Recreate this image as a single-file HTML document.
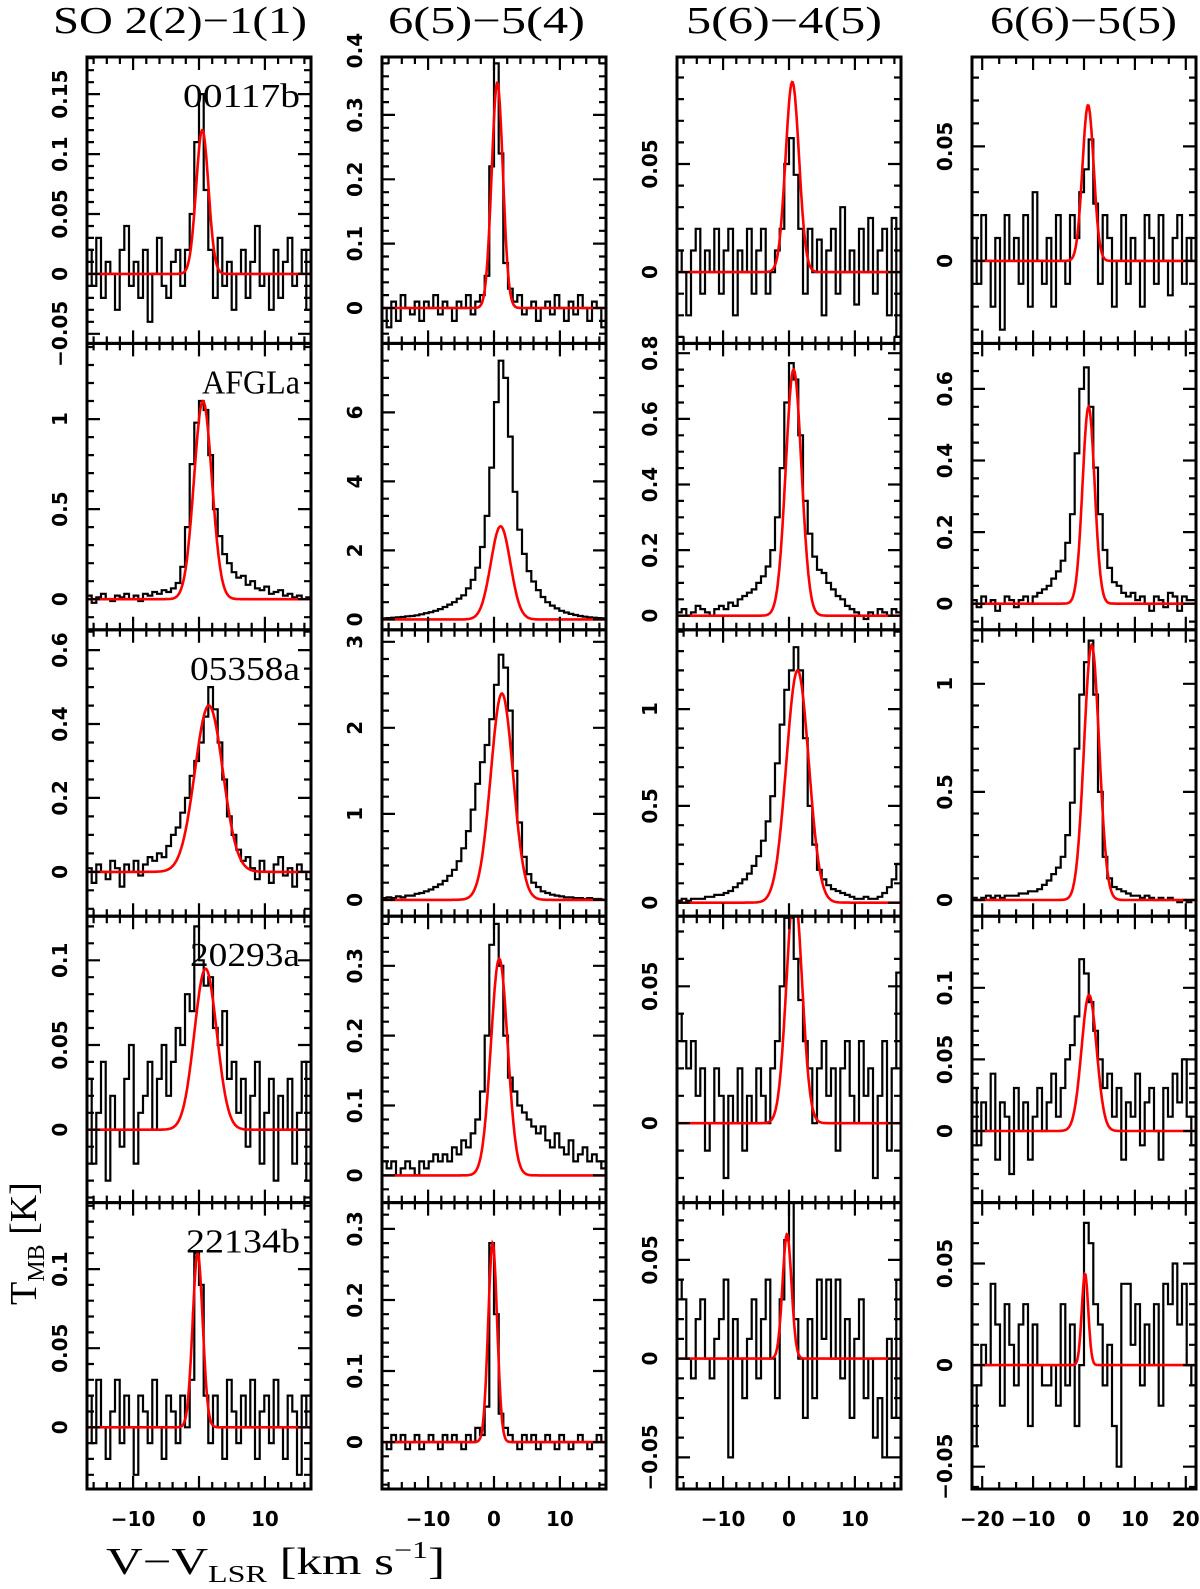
<!DOCTYPE html>
<html><head><meta charset="utf-8"><title>SO spectra</title>
<style>html,body{margin:0;padding:0;background:#fff}svg{display:block}</style></head>
<body>
<svg id="chart" xmlns="http://www.w3.org/2000/svg" width="1200" height="1589" viewBox="0 0 1200 1589">
<g id="titles" font-family="'Liberation Serif', serif" font-size="38" fill="#000">
<text x="53" y="33" textLength="254" lengthAdjust="spacingAndGlyphs">SO 2(2)−1(1)</text>
<text x="388" y="33" textLength="197" lengthAdjust="spacingAndGlyphs">6(5)−5(4)</text>
<text x="686" y="33" textLength="196" lengthAdjust="spacingAndGlyphs">5(6)−4(5)</text>
<text x="990" y="33" textLength="187" lengthAdjust="spacingAndGlyphs">6(6)−5(5)</text>
</g>
<text font-family="'Liberation Serif', serif" font-size="38" transform="translate(36,1305) rotate(-90)">T<tspan font-size="24" dy="8">MB</tspan><tspan dy="-8"> [K]</tspan></text>
<text font-family="'Liberation Serif', serif" font-size="38" x="106" y="1574" textLength="339" lengthAdjust="spacingAndGlyphs">V−V<tspan font-size="24" dy="8">LSR</tspan><tspan dy="-8"> [km s</tspan><tspan font-size="24" dy="-16">−1</tspan><tspan dy="16">]</tspan></text>
<g id="panels"></g>
</svg>
<script>
// ---- data ----
const sources = ["00117b","AFGLa","05358a","20293a","22134b"];
const sourceWidths = [117,98,110,110,114];
const xDomains = [[-17,17],[-17,17],[-17,17],[-22,22]];
const xTickLabels = [[-10,0,10],[-10,0,10],[-10,0,10],[-20,-10,0,10,20]];
const yMinR = [[-0.058,-0.055,-0.033,-0.036],[-0.17,-0.3,-0.043,-0.073],[-0.12,-0.19,-0.07,-0.075],[-0.043,-0.039,-0.029,-0.05],[-0.039,-0.066,-0.066,-0.061]];
const yMaxR = [[0.181,0.39,0.0995,0.089],[1.42,8.0,0.83,0.727],[0.655,3.14,1.41,1.25],[0.126,0.371,0.0756,0.15],[0.142,0.337,0.079,0.08]];
const yTickLabels = [
 [[-0.05,0,0.05,0.1,0.15],[0,0.1,0.2,0.3,0.4],[0,0.05],[0,0.05]],
 [[0,0.5,1],[0,2,4,6],[0,0.2,0.4,0.6,0.8],[0,0.2,0.4,0.6]],
 [[0,0.2,0.4,0.6],[0,1,2,3],[0,0.5,1],[0,0.5,1]],
 [[0,0.05,0.1],[0,0.1,0.2,0.3],[0,0.05],[0,0.05,0.1]],
 [[0,0.05,0.1],[0,0.1,0.2,0.3],[-0.05,0,0.05],[-0.05,0,0.05]]];
const yMinor = [[0.01,0.02,0.01,0.01],[0.1,0.5,0.05,0.05],[0.05,0.2,0.1,0.1],[0.01,0.02,0.01,0.01],[0.01,0.02,0.01,0.01]];
const fitAmp = [[0.12,0.35,0.088,0.068],[1.1,2.7,0.75,0.55],[0.45,2.4,1.2,1.18],[0.095,0.31,0.085,0.095],[0.11,0.28,0.063,0.045]];
const fitCen = [[0.5,0.5,0.5,0.8],[0.6,1.0,0.7,0.9],[1.5,1.2,1.3,1.5],[1.0,0.8,0.8,1.0],[-0.2,-0.2,-0.3,0.2]];
const fitFwhm = [[2.2,2.0,2.4,2.6],[3.2,3.5,2.8,2.8],[5.0,4.0,4.0,3.5],[4.0,3.0,2.8,3.5],[1.8,1.6,1.6,1.5]];
const spec_r1c1 = [0.02,-0.01,0.03,-0.02,0.01,0.00,-0.03,0.02, 0.04,-0.01,0.01,-0.02,0.02,-0.04,0.00,0.03, -0.01,-0.02,0.01,0.02,-0.01,0.02,0.05,0.11, 0.15,0.07,0.02,-0.02,0.03,-0.01,0.01,-0.03, 0.00,0.02,-0.02,0.01,0.04,-0.01,0.00,-0.03, 0.02,-0.02,0.01,0.03,-0.01,0.00,0.02,-0.03];
const spec_r1c2 = [0.00,-0.03,0.01,-0.02,0.02,0.00,-0.01,0.01, -0.02,0.01,0.00,0.02,-0.01,0.01,0.00,-0.02, 0.01,0.00,0.02,-0.01,0.01,0.02,0.05,0.22, 0.38,0.24,0.07,0.03,0.01,0.02,-0.01,0.00, 0.01,-0.02,0.00,0.01,-0.01,0.02,0.00,-0.02, 0.01,-0.01,0.02,0.00,-0.02,0.01,0.00,-0.03];
const spec_r1c3 = [0.01,0.00,-0.02,0.01,0.02,-0.01,0.01,0.00, 0.02,-0.01,0.01,0.02,-0.02,0.01,0.00,0.02, -0.01,0.01,0.02,-0.01,0.00,0.01,0.02,0.05, 0.062,0.045,0.02,-0.01,0.02,0.00,0.015,-0.02, 0.01,0.02,-0.01,0.03,0.00,0.01,-0.015,0.02, 0.00,0.025,-0.01,0.01,0.02,-0.02,0.025,-0.03];
const spec_r1c4 = [0.01,-0.01,0.02,0.00,-0.02,0.01,-0.03,0.02, 0.00,0.01,-0.01,0.02,-0.02,0.03,0.00,-0.01, 0.01,-0.02,0.02,0.00,-0.01,0.02,0.01,0.03, 0.04,0.053,0.025,-0.01,0.02,0.01,-0.02,0.00, 0.02,-0.01,0.01,0.00,-0.02,0.02,0.01,-0.01, 0.02,0.00,-0.015,0.01,0.02,-0.01,0.01,0.00];
const spec_r2c1 = [0.02,-0.02,0.01,0.03,0.00,-0.01,0.02,0.01, 0.03,0.00,0.02,-0.01,0.03,0.02,0.04,0.03, 0.05,0.04,0.06,0.09,0.18,0.4,0.75,0.98, 1.10,1.05,0.80,0.50,0.35,0.25,0.20,0.15, 0.12,0.13,0.08,0.10,0.06,0.05,0.07,0.03, 0.04,0.05,0.02,0.03,0.01,0.02,0.00,0.01];
const spec_r2c2 = [0.03,0.04,0.05,0.06,0.07,0.09,0.10,0.12, 0.15,0.18,0.21,0.25,0.30,0.36,0.43,0.50, 0.60,0.70,0.90,1.15,1.5,2.1,3.0,4.4, 6.3,7.5,7.0,5.3,3.7,2.6,1.9,1.4, 1.1,0.85,0.65,0.5,0.4,0.32,0.25,0.2, 0.16,0.13,0.1,0.08,0.06,0.05,0.04,0.03];
const spec_r2c3 = [0.01,0.02,0.00,0.01,0.03,0.02,0.01,0.00, 0.02,0.03,0.02,0.04,0.03,0.05,0.06,0.07, 0.08,0.10,0.12,0.15,0.2,0.3,0.45,0.65, 0.77,0.72,0.55,0.35,0.25,0.18,0.14,0.13, 0.10,0.08,0.06,0.05,0.03,0.02,0.01,0.00, -0.01,0.01,0.00,0.02,0.01,0.00,0.02,0.01];
const spec_r2c4 = [0.01,-0.01,0.02,0.00,0.01,-0.02,0.00,0.02, 0.01,-0.01,0.01,0.02,0.00,0.02,0.03,0.04, 0.05,0.07,0.09,0.12,0.17,0.25,0.42,0.6, 0.66,0.55,0.38,0.25,0.15,0.1,0.06,0.05, 0.03,0.02,0.03,0.01,0.02,0.00,-0.02,0.02, 0.01,-0.01,0.03,0.02,-0.02,0.02,0.01,0.01];
const spec_r3c1 = [0.01,-0.03,0.02,0.00,-0.02,0.03,0.01,-0.04, 0.02,0.00,0.03,-0.01,0.02,0.04,0.03,0.05, 0.04,0.07,0.1,0.12,0.16,0.2,0.26,0.3, 0.35,0.42,0.5,0.44,0.35,0.25,0.15,0.1, 0.06,0.03,0.04,0.01,-0.02,0.03,0.00,-0.03, 0.02,0.04,-0.01,0.01,-0.04,0.02,0.00,-0.02];
const spec_r3c2 = [0.02,0.03,0.02,0.04,0.03,0.05,0.05,0.07, 0.08,0.1,0.12,0.15,0.18,0.22,0.28,0.35, 0.45,0.6,0.8,1.05,1.35,1.6,1.8,2.1, 2.5,2.85,2.7,2.2,1.5,0.9,0.5,0.3, 0.2,0.15,0.1,0.08,0.06,0.05,0.04,0.03, 0.03,0.02,0.02,0.01,0.02,0.01,0.01,0.0];
const spec_r3c3 = [0.01,0.02,0.01,0.02,0.02,0.02,0.03,0.03, 0.04,0.04,0.05,0.06,0.08,0.1,0.12,0.15, 0.19,0.24,0.32,0.42,0.55,0.72,0.92,1.1, 1.2,1.32,1.2,0.85,0.5,0.3,0.17,0.12, 0.09,0.07,0.06,0.05,0.04,0.03,0.02,0.02, 0.03,0.02,0.02,0.03,0.05,0.08,0.12,0.2];
const spec_r3c4 = [0.01,0.0,0.01,0.02,0.01,0.02,0.01,0.02, 0.02,0.02,0.03,0.03,0.04,0.04,0.05,0.07, 0.09,0.12,0.15,0.2,0.3,0.45,0.7,0.95, 1.1,1.2,0.95,0.5,0.2,0.1,0.06,0.05, 0.04,0.03,0.02,0.02,0.01,0.02,0.01,0.0, 0.01,0.0,0.01,0.0,-0.01,0.0,-0.01,0.0];
const spec_r4c1 = [0.03,-0.02,0.01,0.04,-0.03,0.02,0.00,-0.01, 0.03,0.05,-0.02,0.01,0.02,0.04,0.00,0.03, 0.05,0.02,0.04,0.06,0.05,0.08,0.07,0.12, 0.1,0.085,0.09,0.06,0.05,0.07,0.03,0.04, 0.01,0.03,-0.01,0.02,0.04,-0.02,0.01,0.03, -0.03,0.02,0.00,0.03,-0.02,0.01,0.04,-0.03];
const spec_r4c2 = [0.02,0.01,0.02,0.00,0.01,0.02,0.01,0.00, 0.02,0.01,0.02,0.03,0.02,0.03,0.02,0.04, 0.03,0.05,0.04,0.06,0.08,0.12,0.2,0.33, 0.36,0.3,0.2,0.14,0.12,0.1,0.09,0.08, 0.07,0.06,0.07,0.05,0.04,0.06,0.04,0.03, 0.05,0.02,0.03,0.04,0.02,0.03,0.02,0.01];
const spec_r4c3 = [0.04,0.03,0.02,0.03,0.01,0.02,-0.01,0.00, 0.02,0.01,-0.02,0.01,0.00,0.02,-0.01,0.01, 0.00,0.02,0.01,0.00,0.02,0.03,0.05,0.075, 0.075,0.06,0.045,0.03,0.02,0.00,0.02,0.03, 0.01,0.02,-0.01,0.02,0.03,0.01,0.00,0.03, 0.01,0.02,-0.02,0.01,0.03,-0.01,0.02,0.055];
const spec_r4c4 = [0.03,-0.01,0.02,0.00,0.04,-0.02,0.02,0.01, -0.03,0.03,0.00,0.02,-0.02,0.01,0.03,0.00, 0.02,0.04,0.01,0.03,0.05,0.06,0.08,0.12, 0.11,0.09,0.07,0.05,0.03,0.04,0.01,0.03, -0.02,0.02,0.01,0.04,-0.01,0.02,0.03,0.00, -0.02,0.03,0.01,0.04,0.02,0.05,0.01,-0.01];
const spec_r5c1 = [0.02,-0.01,0.03,0.00,-0.02,0.01,0.03,-0.01, 0.02,0.00,-0.03,0.02,0.01,-0.01,0.03,0.00, -0.02,0.02,0.01,-0.01,0.02,0.00,0.03,0.11, 0.09,0.02,-0.01,0.02,0.00,-0.02,0.03,0.01, -0.01,0.02,0.00,0.03,-0.02,0.01,0.02,-0.01, 0.03,0.00,-0.02,0.02,0.01,-0.03,0.02,0.00];
const spec_r5c2 = [0.00,-0.01,0.01,0.00,0.01,-0.01,0.00,0.01, -0.01,0.00,0.01,0.00,-0.01,0.01,0.00,0.01, 0.00,-0.01,0.01,0.00,0.02,0.01,0.05,0.28, 0.18,0.04,0.02,0.01,0.00,-0.01,0.01,0.00, 0.01,-0.01,0.00,0.01,0.00,-0.01,0.01,0.00, -0.01,0.00,0.01,0.00,-0.01,0.00,0.01,0.00];
const spec_r5c3 = [0.04,0.03,0.00,-0.01,0.02,0.03,0.00,-0.01, 0.01,0.02,0.04,-0.05,0.02,0.00,-0.02,0.01, 0.03,-0.01,0.02,0.04,0.00,-0.02,0.03,0.06, 0.08,0.02,0.00,-0.03,0.02,-0.02,0.04,0.01, 0.04,0.00,0.04,-0.01,0.02,-0.03,0.01,0.03, -0.02,0.00,-0.04,-0.02,-0.05,0.01,-0.03,0.04];
const spec_r5c4 = [-0.04,-0.01,0.01,0.00,0.04,0.02,-0.02,0.03, 0.01,-0.01,0.02,0.03,-0.03,0.02,0.00,-0.01, -0.01,0.00,-0.02,0.03,-0.01,0.02,-0.03,0.00, 0.07,0.06,0.03,0.02,-0.01,0.01,-0.03,-0.05, 0.04,0.04,0.01,0.03,-0.01,0.02,0.00,0.03, -0.02,0.04,0.03,0.05,0.02,0.04,0.00,-0.01];
const spectra = [
 [spec_r1c1,spec_r1c2,spec_r1c3,spec_r1c4],
 [spec_r2c1,spec_r2c2,spec_r2c3,spec_r2c4],
 [spec_r3c1,spec_r3c2,spec_r3c3,spec_r3c4],
 [spec_r4c1,spec_r4c2,spec_r4c3,spec_r4c4],
 [spec_r5c1,spec_r5c2,spec_r5c3,spec_r5c4]];

const NS = "http://www.w3.org/2000/svg";
const colX0 = [87,382,677,972], colW = 224;
const rowTop = 57, rowH = 286.4;
const root = document.getElementById('panels');
function mk(tag, attrs, parent){const e=document.createElementNS(NS,tag);for(const k in attrs)e.setAttribute(k,attrs[k]);(parent||root).appendChild(e);return e;}
function fmt(v){let s=String(Math.round(v*1000)/1000);return s.replace('-','−');}

for(let r=0;r<5;r++){for(let c=0;c<4;c++){
  const x0=colX0[c], y0=rowTop+r*rowH, x1=x0+colW, y1=y0+rowH;
  const [xa,xb]=xDomains[c], ya=yMinR[r][c], yb=yMaxR[r][c];
  const X=v=>x0+(v-xa)/(xb-xa)*colW;
  const Y=v=>y1-(v-ya)/(yb-ya)*rowH;
  const g=mk('g',{});
  
  
  const cid='clip'+r+'_'+c;
  const cp=mk('clipPath',{id:cid},g); mk('rect',{x:x0,y:y0,width:colW,height:rowH},cp);
  const d=spectra[r][c], n=d.length, dv=(xb-xa)/n;
  let p='';
  for(let i=0;i<n;i++){const a=X(xa+i*dv), b=X(xa+(i+1)*dv), y=Y(d[i]);
    p+=(i===0?'M'+a.toFixed(1)+' '+y.toFixed(1):'V'+y.toFixed(1))+'H'+b.toFixed(1);}
  const sp=mk('path',{d:p,fill:'none',stroke:'#000','stroke-width':2.2,'clip-path':'url(#'+cid+')'},g);
  
  
  const A=fitAmp[r][c], C=fitCen[r][c], s=fitFwhm[r][c]/2.3548;
  let fp='';
  for(let k=0;k<=300;k++){const v=xa+(xb-xa)*k/300, y=A*Math.exp(-0.5*((v-C)/s)**2);
    fp+=(k?'L':'M')+X(v).toFixed(1)+' '+Y(y).toFixed(1);}
  const fl=mk('path',{d:fp,fill:'none',stroke:'#ff0000','stroke-width':2.6,'clip-path':'url(#'+cid+')'},g);
  
  
  let tp='';
  const xMinor = c===3?10/3:2;
  for(let v=Math.ceil(xa/xMinor)*xMinor; v<=xb+1e-9; v+=xMinor){
    const maj=Math.abs(v/10-Math.round(v/10))<1e-6, L=maj?13:7, x=X(v).toFixed(1);
    tp+='M'+x+' '+y1+'v'+(-L)+'M'+x+' '+y0+'v'+L;}
  const ym=yMinor[r][c], labs=yTickLabels[r][c], maj=labs.length>1?labs[1]-labs[0]:ym*5;
  for(let k=Math.ceil(ya/ym); k*ym<=yb+1e-9; k++){
    const v=k*ym, isM=Math.abs(v/maj-Math.round(v/maj))<1e-6, L=isM?13:7, y=Y(v).toFixed(1);
    tp+='M'+x0+' '+y+'h'+L+'M'+x1+' '+y+'h'+(-L);}
  mk('path',{d:tp,fill:'none',stroke:'#000','stroke-width':2.2},g);
  const fr=mk('rect',{x:x0,y:y0,width:colW,height:rowH,fill:'none',stroke:'#000','stroke-width':3},g);
  
  
  labs.forEach(v=>{const yy=Y(v);
    const t=mk('text',{transform:'translate('+(x0-20)+','+yy.toFixed(1)+') rotate(-90)','text-anchor':'middle','font-family':"'DejaVu Sans', sans-serif",'font-size':20,'font-weight':'bold'},g);
    t.textContent=fmt(v);
    
    });
  if(r===4){xTickLabels[c].forEach(v=>{
    const t=mk('text',{x:X(v).toFixed(1),y:y1+37,'text-anchor':'middle','font-family':"'DejaVu Sans', sans-serif",'font-size':20,'font-weight':'bold'},g);
    t.textContent=fmt(v);
    
    });}
  if(c===0){
    const w=sourceWidths[r];
    const t=mk('text',{x:x0+213-w,y:y0+50,'font-family':"'Liberation Serif', serif",'font-size':34,textLength:w,lengthAdjust:'spacingAndGlyphs'},g);
    t.textContent=sources[r];
    
    }
}}
</script>
</body></html>
